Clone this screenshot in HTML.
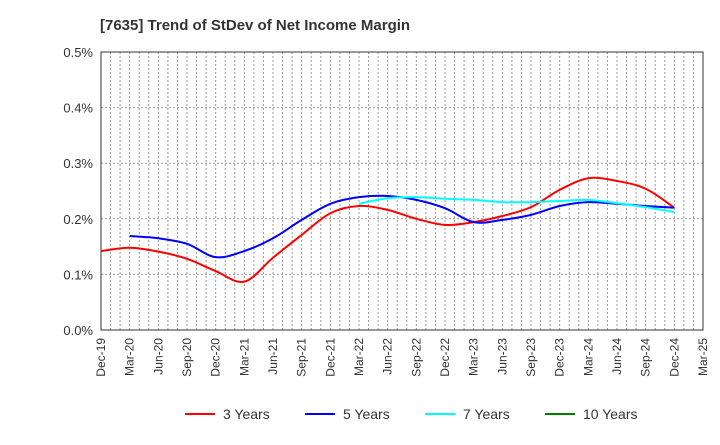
<!DOCTYPE html>
<html><head><meta charset="utf-8"><style>
body{margin:0;background:#fff;font-family:"Liberation Sans",sans-serif;}
</style></head><body>
<svg id="chart" width="720" height="440" xmlns="http://www.w3.org/2000/svg" font-family="Liberation Sans, sans-serif">
<text x="100" y="30" font-size="15" font-weight="bold" fill="#333">[7635]  Trend of StDev of Net Income Margin</text>
<g id="grid"></g>
<g id="axes"></g>
<g id="series"></g>
<g id="legend"></g>
</svg>
<script>
const xLabels=["Dec-19","Mar-20","Jun-20","Sep-20","Dec-20","Mar-21","Jun-21","Sep-21","Dec-21","Mar-22","Jun-22","Sep-22","Dec-22","Mar-23","Jun-23","Sep-23","Dec-23","Mar-24","Jun-24","Sep-24","Dec-24","Mar-25"];
const yTicks=[0,0.1,0.2,0.3,0.4,0.5];
const yTickLabels=["0.0%","0.1%","0.2%","0.3%","0.4%","0.5%"];
const seriesNames=["3 Years","5 Years","7 Years","10 Years"];
const seriesColors=["#ff0000","#0000ff","#00ffff","#008000"];
// values indexed by quarter (index into xLabels), null = no data
const s3=[0.142,0.148,0.141,0.128,0.106,0.087,0.13,0.171,0.21,0.223,0.216,0.2,0.189,0.194,0.205,0.221,0.252,0.273,0.268,0.254,0.22];
const s5=[null,0.169,0.165,0.155,0.131,0.142,0.165,0.198,0.227,0.239,0.241,0.234,0.219,0.194,0.198,0.207,0.223,0.23,0.227,0.223,0.22];
const s7=[null,null,null,null,null,null,null,null,null,0.227,0.237,0.239,0.236,0.234,0.23,0.23,0.232,0.234,0.228,0.221,0.212];
const s10=[];
const NS="http://www.w3.org/2000/svg";
const L=101,R=703,T=52,B=330,yMax=0.5;
const monthW=(R-L)/63;
function xQ(i){return L+i*3*monthW;}
function xM(m){return L+m*monthW;}
function y(v){return B-(v/yMax)*(B-T);}
function mk(tag,attrs,parent){const e=document.createElementNS(NS,tag);for(const k in attrs)e.setAttribute(k,attrs[k]);parent.appendChild(e);return e;}
const grid=document.getElementById('grid'),axes=document.getElementById('axes'),ser=document.getElementById('series'),leg=document.getElementById('legend');
for(let m=1;m<63;m++){const l=mk('line',{x1:xM(m),x2:xM(m),y1:T,y2:B,stroke:'#999','stroke-dasharray':'2,2','stroke-width':1},grid);

}
yTicks.forEach((v,i)=>{
 if(v>0){const g=mk('line',{x1:L,x2:R,y1:y(v),y2:y(v),stroke:'#999','stroke-dasharray':'2,2','stroke-width':1},grid);
 
 }
 const t=mk('text',{x:L-8,y:y(v)+5,'text-anchor':'end','font-size':13,fill:'#333'},axes);t.textContent=yTickLabels[i];
 
 
});
const frame=mk('rect',{x:L,y:T,width:R-L,height:B-T,fill:'none',stroke:'#333','stroke-width':1},axes);


xLabels.forEach((s,i)=>{const x=xQ(i);
 const t=mk('text',{x:x+4,y:B+8,'text-anchor':'end','font-size':12,fill:'#333',transform:`rotate(-90 ${x+4} ${B+8})`},axes);t.textContent=s;
 
 });
function path(vals){const pts=[];vals.forEach((v,i)=>{if(v!=null)pts.push([xQ(i),y(v)]);});
 if(pts.length<2)return '';let d=`M${pts[0][0]},${pts[0][1]}`;
 for(let i=0;i<pts.length-1;i++){const p0=pts[Math.max(0,i-1)],p1=pts[i],p2=pts[i+1],p3=pts[Math.min(pts.length-1,i+2)];
 const c1=[p1[0]+(p2[0]-p0[0])/6,p1[1]+(p2[1]-p0[1])/6],c2=[p2[0]-(p3[0]-p1[0])/6,p2[1]-(p3[1]-p1[1])/6];
 d+=` C${c1[0]},${c1[1]} ${c2[0]},${c2[1]} ${p2[0]},${p2[1]}`;}return d;}
[s3,s5,s7,s10].forEach((s,k)=>{const d=path(s);if(!d)return;
 const p=mk('path',{d:d,fill:'none',stroke:seriesColors[k],'stroke-width':2},ser);
 
 });
const legX=[185,305,425,545];
seriesNames.forEach((n,k)=>{
 const g=mk('g',{},leg);
 
 
 mk('line',{x1:legX[k],x2:legX[k]+30,y1:414,y2:414,stroke:seriesColors[k],'stroke-width':2},g);
 const t=mk('text',{x:legX[k]+38,y:419,'font-size':14,fill:'#333'},g);t.textContent=n;});
</script>
</body></html>
